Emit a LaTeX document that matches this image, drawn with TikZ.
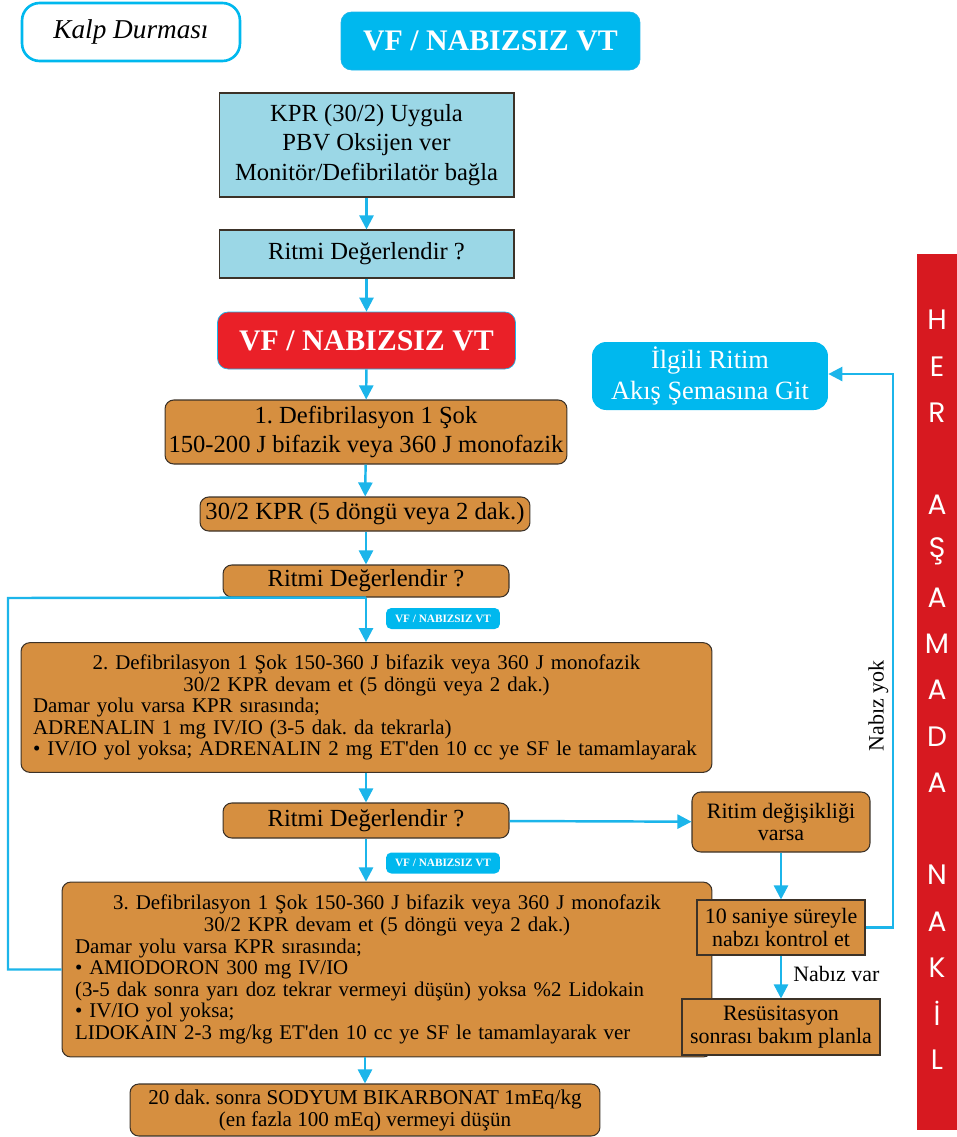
\documentclass[tikz,border=0pt]{standalone}
\usepackage{fontspec}
\setmainfont{Liberation Serif}
\newfontfamily\bandfont{Poppins}
\usetikzlibrary{arrows.meta}

\definecolor{akcyan}{RGB}{0,184,238}
\definecolor{aklight}{RGB}{155,215,230}
\definecolor{akorange}{RGB}{214,143,64}
\definecolor{akred}{RGB}{234,32,40}
\definecolor{akband}{RGB}{215,25,32}
\definecolor{akline}{RGB}{28,181,234}
\definecolor{akedge}{RGB}{60,50,40}

\tikzset{
	flow/.style={draw=akline, line width=1.4pt, -{Triangle[length=8pt,width=8pt]}},
	lbox/.style={draw=akedge, fill=aklight, line width=0.6pt, align=center, inner sep=0pt, font=\fontsize{14}{17}\selectfont},
	obox/.style={draw=akedge, fill=akorange, rounded corners=5pt, line width=0.6pt, align=center, inner sep=0pt, font=\fontsize{14}{17}\selectfont},
	sbox/.style={draw=akedge, fill=akorange, line width=0.6pt, align=center, inner sep=0pt, font=\fontsize{12.5}{13.5}\selectfont},
	vfbox/.style={rounded corners=6pt, text=white, inner sep=0pt, font=\fontsize{17}{19}\selectfont\bfseries},
	tag/.style={fill=akcyan, rounded corners=3pt, text=white, inner sep=0pt, minimum width=2.28cm, minimum height=0.42cm, font=\fontsize{6.4}{7}\selectfont\bfseries},
	bandletter/.style={text=white, inner sep=0pt, font=\bandfont\fontsize{16}{16}\selectfont},
}

\begin{document}
\frenchspacing
\begin{tikzpicture}[x=0.02cm, y=-0.02cm]
	\useasboundingbox (0,0) rectangle (957,1137);
	% baslik
	\node[draw=akcyan, line width=1.5pt, rounded corners=10pt, minimum width=4.36cm, minimum height=1.16cm, font=\fontsize{15.5}{18}\selectfont\itshape] (kalp) at (131,32) {Kalp Durması};
	\node[vfbox, fill=akcyan, draw=akline, minimum width=5.98cm, minimum height=1.16cm] (vfust) at (490.5,41) {VF / NABIZSIZ VT};
	% ana akis
	\node[lbox, minimum width=5.9cm, minimum height=2.08cm] (kpr) at (366.5,145) {KPR (30/2) Uygula\\PBV Oksijen ver\\Monitör/Defibrilatör bağla};
	\node[lbox, minimum width=5.9cm, minimum height=0.96cm] (ritmi1) at (366.5,254) {Ritmi Değerlendir ?};
	\node[vfbox, fill=akred, draw=akline, minimum width=5.96cm, minimum height=1.14cm] (vfkirmizi) at (366.5,340.5) {VF / NABIZSIZ VT};
	\node[obox, minimum width=8.04cm, minimum height=1.28cm] (defib1) at (366,432) {1. Defibrilasyon 1 Şok\\150-200 J bifazik veya 360 J monofazik};
	\node[obox, minimum width=6.6cm, minimum height=0.68cm] (kpr2) at (365,514) {30/2 KPR (5 döngü veya 2 dak.)};
	\node[obox, minimum width=5.72cm, minimum height=0.64cm] (ritmi2) at (366,581) {Ritmi Değerlendir ?};
	\node[tag] (etiket1) at (443,618.5) {VF / NABIZSIZ VT};
	\node[obox, align=left, text width=13.34cm, inner sep=0.24cm, minimum height=2.58cm, font=\fontsize{11.9}{12.3}\selectfont] (defib2) at (366.5,707.5) {\makebox[\linewidth]{2. Defibrilasyon 1 Şok 150-360 J bifazik veya 360 J monofazik}\\
		\makebox[\linewidth]{30/2 KPR devam et (5 döngü veya 2 dak.)}\\
		Damar yolu varsa KPR sırasında;\\
		ADRENALIN 1 mg IV/IO (3-5 dak. da tekrarla)\\
		• IV/IO yol yoksa; ADRENALIN 2 mg ET\textquotesingle den 10 cc ye SF le tamamlayarak};
	\node[obox, minimum width=5.72cm, minimum height=0.7cm] (ritmi3) at (366,820.5) {Ritmi Değerlendir ?};
	\node[tag] (etiket2) at (443,863) {VF / NABIZSIZ VT};
	\node[obox, align=left, text width=12.48cm, inner sep=0.26cm, minimum height=3.3cm, font=\fontsize{11.9}{12.3}\selectfont] (defib3) at (387,969.5) {\makebox[\linewidth]{3. Defibrilasyon 1 Şok 150-360 J bifazik veya 360 J monofazik}\\
		\makebox[\linewidth]{30/2 KPR devam et (5 döngü veya 2 dak.)}\\
		Damar yolu varsa KPR sırasında;\\
		• AMIODORON 300 mg IV/IO\\
		(3-5 dak sonra yarı doz tekrar vermeyi düşün) yoksa \%2 Lidokain\\
		• IV/IO yol yoksa;\\
		LIDOKAIN 2-3 mg/kg ET\textquotesingle den 10 cc ye SF le tamamlayarak ver};
	\node[obox, minimum width=9.4cm, minimum height=1.04cm, font=\fontsize{12}{12.5}\selectfont] (sodyum) at (365,1110) {20 dak. sonra SODYUM BIKARBONAT 1mEq/kg\\(en fazla 100 mEq) vermeyi düşün};
	% sag kol
	\node[fill=akcyan, rounded corners=8pt, text=white, align=center, inner sep=0pt, minimum width=4.72cm, minimum height=1.36cm, font=\fontsize{15}{17.5}\selectfont] (ilgili) at (710,376) {İlgili Ritim\\Akış Şemasına Git};
	\node[obox, minimum width=3.56cm, minimum height=1.2cm, font=\fontsize{12.5}{12.5}\selectfont] (degisik) at (781,822) {Ritim değişikliği\\varsa};
	\node[sbox, minimum width=3.36cm, minimum height=1.1cm] (nabiz) at (781,927.5) {10 saniye süreyle\\nabzı kontrol et};
	\node[sbox, minimum width=3.96cm, minimum height=1.12cm] (resus) at (781,1027) {Resüsitasyon\\sonrası bakım planla};
	% serit
	\node[fill=akband, inner sep=0pt, minimum width=0.8cm, minimum height=17.52cm] (serit) at (937,692) {};
	\foreach \harf [count=\i from 0] in {H,E,R,,A,Ş,A,M,A,D,A,,N,A,K,İ,L}
		\node[bandletter] (harf\i) at (937,320+46.25*\i) {\harf};
	% oklar
	\draw[flow] (kpr) -- (ritmi1);
	\draw[flow] (ritmi1) -- (vfkirmizi);
	\draw[flow] (vfkirmizi) -- (defib1);
	\draw[flow] (defib1) -- (kpr2);
	\draw[flow] (kpr2.south -| ritmi2) -- (ritmi2);
	\draw[flow] (ritmi2) -- (ritmi2.south |- defib2.north);
	\draw[flow] (ritmi2.south |- defib2.south) -- (ritmi3);
	\draw[flow] (ritmi3) -- (ritmi3.south |- defib3.north);
	\draw[flow] (sodyum.north |- defib3.south) -- (sodyum);
	\coordinate (sol) at (8,598);
	\draw[akline, line width=1.4pt] (defib3.west) -| (sol) -- (ritmi2.south);
	\draw[flow] (ritmi3) -- (degisik);
	\draw[flow] (degisik) -- (nabiz);
	\draw[flow] (nabiz) -- node[right, xshift=3pt, yshift=2pt, font=\fontsize{12.5}{13}\selectfont] {Nabız var} (resus);
	\coordinate (donus) at (893,374);
	\draw[flow] (nabiz.east) -| node[pos=0.7, above, rotate=90, inner sep=2pt, font=\fontsize{12.5}{13}\selectfont] {Nabız yok} (donus) -- (ilgili.east |- donus);
\end{tikzpicture}
\end{document}
